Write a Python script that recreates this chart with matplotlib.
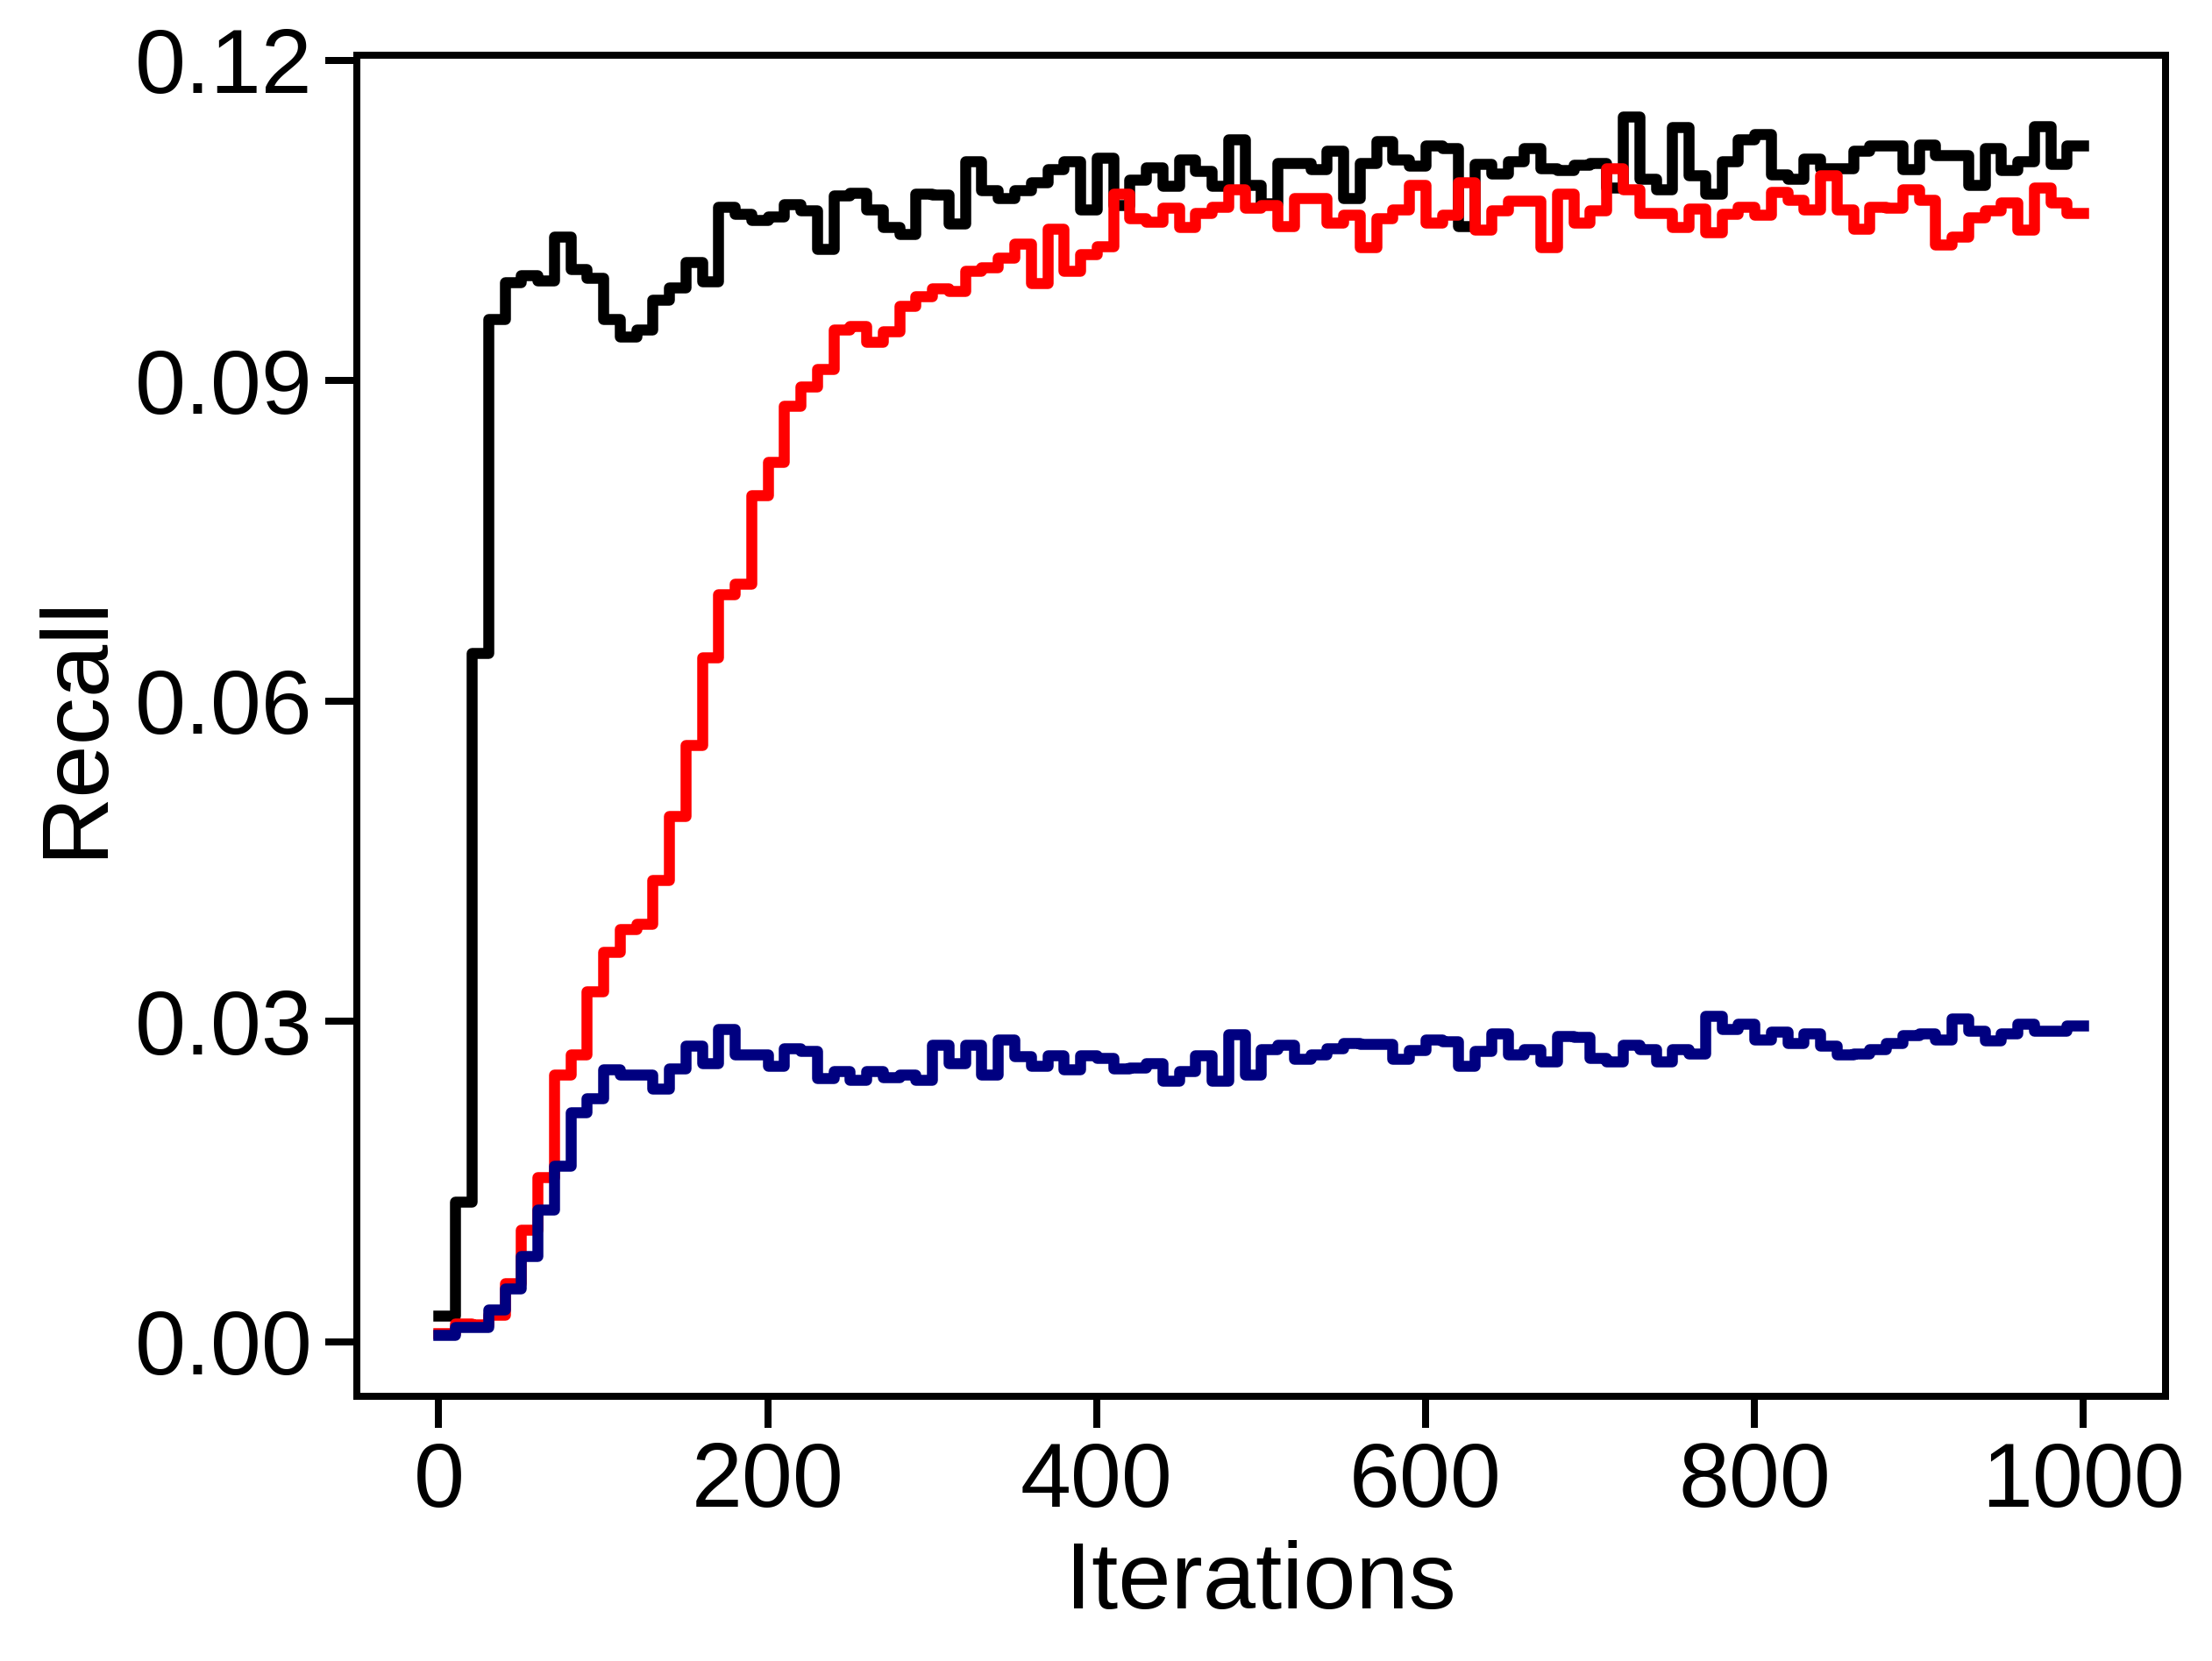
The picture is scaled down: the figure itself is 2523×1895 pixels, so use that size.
import numpy as np
import matplotlib
matplotlib.use("Agg")
import matplotlib.pyplot as plt

plt.rcParams['font.family'] = ['Liberation Sans', 'DejaVu Sans']

iterations = list(range(0, 1001, 10))

recall_black = [
    0.0024, 0.0131, 0.0645, 0.0958, 0.0992, 0.0999, 0.0994, 0.1035, 0.1004, 0.0996,
    0.0958, 0.0941, 0.0948, 0.0976, 0.0987, 0.1011, 0.0993, 0.1063, 0.1056, 0.1050,
    0.1054, 0.1065, 0.1059, 0.1023, 0.1073, 0.1076, 0.1060, 0.1044, 0.1037, 0.1075,
    0.1074, 0.1047, 0.1105, 0.1078, 0.1071, 0.1078, 0.1086, 0.1098, 0.1105, 0.1060,
    0.1109, 0.1064, 0.1088, 0.1100, 0.1082, 0.1107, 0.1096, 0.1082, 0.1126, 0.1083,
    0.1066, 0.1104, 0.1104, 0.1098, 0.1115, 0.1071, 0.1104, 0.1124, 0.1107, 0.1101,
    0.1120, 0.1118, 0.1045, 0.1103, 0.1094, 0.1105, 0.1118, 0.1099, 0.1097, 0.1102,
    0.1104, 0.1081, 0.1147, 0.1089, 0.1079, 0.1137, 0.1092, 0.1075, 0.1105, 0.1126,
    0.1131, 0.1093, 0.1089, 0.1108, 0.1099, 0.1099, 0.1115, 0.1120, 0.1120, 0.1098,
    0.1121, 0.1111, 0.1111, 0.1083, 0.1118, 0.1097, 0.1105, 0.1138, 0.1103, 0.1120,
    0.1120,
]

recall_red = [
    0.0008, 0.0017, 0.0016, 0.0025, 0.0055, 0.0105, 0.0154, 0.0250, 0.0269, 0.0328,
    0.0365, 0.0386, 0.0391, 0.0432, 0.0492, 0.0559, 0.0641, 0.0700, 0.0710, 0.0793,
    0.0824, 0.0876, 0.0894, 0.0911, 0.0948, 0.0951, 0.0936, 0.0946, 0.0970, 0.0979,
    0.0986, 0.0984, 0.1003, 0.1006, 0.1015, 0.1028, 0.0991, 0.1042, 0.1003, 0.1018,
    0.1026, 0.1075, 0.1052, 0.1049, 0.1062, 0.1044, 0.1057, 0.1063, 0.1079, 0.1062,
    0.1064, 0.1045, 0.1071, 0.1071, 0.1048, 0.1055, 0.1025, 0.1052, 0.1060, 0.1083,
    0.1048, 0.1055, 0.1086, 0.1041, 0.1059, 0.1068, 0.1068, 0.1025, 0.1075, 0.1048,
    0.1059, 0.1099, 0.1079, 0.1057, 0.1057, 0.1044, 0.1061, 0.1039, 0.1056, 0.1063,
    0.1055, 0.1077, 0.1069, 0.1060, 0.1092, 0.1060, 0.1042, 0.1063, 0.1062, 0.1079,
    0.1069, 0.1027, 0.1035, 0.1053, 0.1059, 0.1067, 0.1041, 0.1081, 0.1067, 0.1057,
    0.1057,
]

recall_blue = [
    0.0006, 0.0014, 0.0014, 0.0030, 0.0050, 0.0080, 0.0124, 0.0165, 0.0215, 0.0228,
    0.0255, 0.0250, 0.0250, 0.0237, 0.0256, 0.0277, 0.0261, 0.0293, 0.0269, 0.0269,
    0.0258, 0.0275, 0.0272, 0.0247, 0.0253, 0.0245, 0.0253, 0.0248, 0.0250, 0.0245,
    0.0278, 0.0261, 0.0278, 0.0250, 0.0283, 0.0267, 0.0258, 0.0268, 0.0255, 0.0268,
    0.0266, 0.0256, 0.0257, 0.0261, 0.0244, 0.0253, 0.0268, 0.0244, 0.0288, 0.0250,
    0.0274, 0.0278, 0.0265, 0.0269, 0.0275, 0.0280, 0.0279, 0.0279, 0.0265, 0.0273,
    0.0283, 0.0281, 0.0258, 0.0272, 0.0289, 0.0269, 0.0274, 0.0262, 0.0286, 0.0285,
    0.0266, 0.0262, 0.0278, 0.0274, 0.0262, 0.0274, 0.0270, 0.0305, 0.0293, 0.0298,
    0.0283, 0.0290, 0.0280, 0.0289, 0.0277, 0.0269, 0.0270, 0.0274, 0.0280, 0.0287,
    0.0289, 0.0283, 0.0303, 0.0291, 0.0282, 0.0289, 0.0298, 0.0291, 0.0291, 0.0296,
    0.0296,
]

x_ticks = [0, 200, 400, 600, 800, 1000]
y_ticks = [0.00, 0.03, 0.06, 0.09, 0.12]
y_tick_labels = ['0.00', '0.03', '0.06', '0.09', '0.12']

W, H = 2523, 1895
DPI = 300
fig = plt.figure(figsize=(W / DPI, H / DPI), dpi=DPI)
ax = fig.add_axes([406.7 / W, 1 - 1593.2 / H, (2470 - 406.7) / W, (1593.2 - 62.7) / H])

lw = 3.0
ax.plot(iterations, recall_black, color='black', lw=lw, drawstyle='steps-post')
ax.plot(iterations, recall_red, color='#ff0000', lw=lw, drawstyle='steps-post')
ax.plot(iterations, recall_blue, color='#000080', lw=lw, drawstyle='steps-post')

ax.set_xlim(-50, 1050)
ax.set_ylim(-0.00513, 0.12049)
ax.set_xticks(x_ticks)
ax.set_yticks(y_ticks)
ax.set_yticklabels(y_tick_labels)

for s in ax.spines.values():
    s.set_linewidth(1.92)
ax.tick_params(axis='both', which='major', length=8.6, width=1.92,
               labelsize=25, pad=3.5, color='black')

ax.set_xlabel('Iterations', fontsize=26)
ax.set_ylabel('Recall', fontsize=26)

fig.savefig('out.png', dpi=DPI)
